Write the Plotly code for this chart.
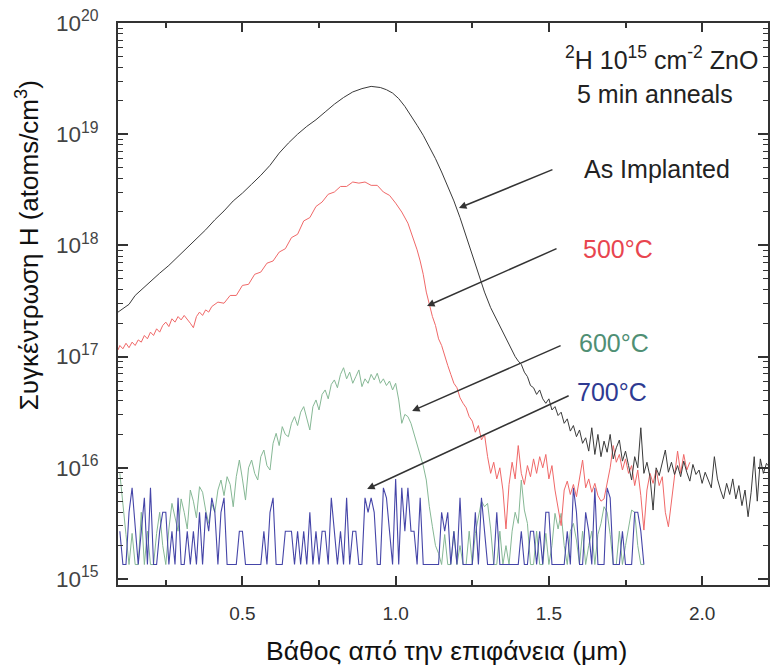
import plotly.graph_objects as go

FONT = "Liberation Sans, Arial, sans-serif"

# ---------------- data (depth in um, concentration given as log10(atoms/cm^3)) ----------------
asimp_depth = [0.094, 0.11, 0.13, 0.15, 0.17,
               0.20, 0.23, 0.26, 0.29, 0.32, 0.35, 0.38, 0.41, 0.44, 0.47, 0.50, 0.53, 0.56,
               0.59, 0.62, 0.65, 0.68, 0.71, 0.74, 0.77, 0.80, 0.83, 0.86, 0.89, 0.92, 0.95,
               0.97, 0.99, 1.01, 1.03, 1.05, 1.07, 1.09, 1.11, 1.13, 1.15, 1.17, 1.19, 1.21,
               1.23, 1.25, 1.27, 1.29, 1.31, 1.33, 1.35, 1.37,
               1.38, 1.39, 1.40, 1.41, 1.42, 1.43, 1.44, 1.45, 1.46, 1.47,
               1.48, 1.49, 1.50, 1.51, 1.52, 1.53, 1.54, 1.55, 1.56, 1.57,
               1.58, 1.59, 1.60, 1.61, 1.62, 1.63, 1.64, 1.65, 1.66, 1.67,
               1.68, 1.69, 1.70, 1.71, 1.72, 1.73, 1.74, 1.75, 1.76, 1.77,
               1.78, 1.79, 1.80, 1.81, 1.82, 1.83, 1.84, 1.85, 1.86, 1.87,
               1.88, 1.89, 1.90, 1.91, 1.92, 1.93, 1.94, 1.95, 1.96, 1.97,
               1.98, 1.99, 2.00, 2.01, 2.02, 2.03, 2.04, 2.05, 2.06, 2.07,
               2.08, 2.09, 2.10, 2.11, 2.12, 2.13, 2.14, 2.15, 2.16, 2.17,
               2.18, 2.19, 2.20, 2.21, 2.215]
asimp_log = [17.40, 17.43, 17.47, 17.55, 17.60,
             17.68, 17.75, 17.82, 17.90, 17.98, 18.06, 18.14, 18.23, 18.31, 18.40, 18.47, 18.55, 18.63,
             18.72, 18.83, 18.92, 19.00, 19.07, 19.13, 19.20, 19.27, 19.33, 19.38, 19.41, 19.43, 19.42,
             19.40, 19.37, 19.32, 19.25, 19.17, 19.08, 18.99, 18.89, 18.78, 18.66, 18.53, 18.40, 18.25,
             18.08, 17.90, 17.73, 17.58, 17.44, 17.33, 17.22, 17.10,
             17.05, 17.00, 16.96, 16.93, 16.86, 16.82, 16.74, 16.72, 16.66, 16.70,
             16.62, 16.58, 16.62, 16.52, 16.55, 16.47, 16.50, 16.40, 16.44, 16.33,
             16.38, 16.28, 16.34, 16.22, 16.27, 16.15, 16.36, 16.12, 16.30, 16.10,
             16.24, 16.14, 16.30, 16.08, 16.18, 16.25, 16.06, 16.15, 16.02, 15.89,
             16.10, 16.00, 16.36, 15.95, 16.05, 15.92, 15.62, 16.00, 15.93, 16.04,
             16.16, 15.96, 16.05, 15.94, 16.02, 15.92, 16.06, 15.96, 15.88, 16.03,
             15.94, 15.98, 15.86, 15.96, 15.88, 15.82, 16.10, 15.90, 15.80, 15.72,
             15.86, 15.76, 15.90, 15.72, 15.84, 15.66, 15.80, 15.56, 15.78, 16.10,
             15.70, 16.08, 15.95, 16.04, 16.02]

c500_depth = [0.094,
              0.10, 0.11, 0.12, 0.13, 0.14, 0.15, 0.16, 0.17, 0.18, 0.19,
              0.20, 0.21, 0.22, 0.23, 0.24, 0.25, 0.26, 0.27, 0.28, 0.29,
              0.30, 0.31, 0.32, 0.33, 0.34, 0.35, 0.36, 0.37, 0.38, 0.39, 0.40,
              0.42, 0.44, 0.46, 0.48, 0.50, 0.52, 0.54, 0.56, 0.58, 0.60, 0.62, 0.64, 0.66,
              0.68, 0.70, 0.72, 0.74, 0.76, 0.78, 0.80, 0.82, 0.84, 0.86, 0.88, 0.90, 0.92,
              0.94, 0.96, 0.98,
              1.00, 1.02, 1.04, 1.06,
              1.07, 1.08, 1.09, 1.10, 1.11, 1.12, 1.13, 1.14, 1.15, 1.16,
              1.17, 1.18, 1.19, 1.20, 1.21, 1.22, 1.23, 1.24, 1.25, 1.26,
              1.27, 1.28, 1.29, 1.30, 1.31, 1.32, 1.33, 1.34, 1.35, 1.36,
              1.37, 1.38, 1.39, 1.40, 1.41, 1.42, 1.43, 1.44, 1.45, 1.46,
              1.47, 1.48, 1.49, 1.50, 1.51, 1.52, 1.53, 1.54, 1.55, 1.56,
              1.57, 1.58, 1.59, 1.60, 1.61, 1.62, 1.63, 1.64, 1.65, 1.66,
              1.67, 1.68, 1.69, 1.70, 1.71, 1.72, 1.73, 1.74, 1.75, 1.76,
              1.77, 1.78, 1.79, 1.80, 1.81, 1.82, 1.83, 1.84, 1.85, 1.86,
              1.87, 1.88, 1.89, 1.90, 1.91, 1.92, 1.93, 1.94, 1.95, 1.96]
c500_log = [17.06,
            17.10, 17.07, 17.12, 17.08, 17.13, 17.10, 17.15, 17.13, 17.19, 17.16,
            17.22, 17.19, 17.25, 17.22, 17.28, 17.31, 17.27, 17.34, 17.31, 17.36,
            17.33, 17.37, 17.34, 17.30, 17.26, 17.36, 17.40, 17.37, 17.42, 17.40, 17.45,
            17.49, 17.48, 17.55, 17.55, 17.64, 17.65, 17.74, 17.76, 17.84, 17.86, 17.94, 17.97, 18.07,
            18.10, 18.22, 18.25, 18.35, 18.39, 18.46, 18.48, 18.53, 18.53, 18.57, 18.56, 18.57, 18.54,
            18.54, 18.48, 18.45,
            18.38, 18.30, 18.20, 18.05,
            17.96, 17.86, 17.74, 17.58, 17.47, 17.36, 17.28, 17.16, 17.10, 17.02,
            16.92, 16.84, 16.76, 16.72, 16.63, 16.58, 16.54, 16.46, 16.42, 16.32,
            16.38, 16.25, 16.30, 16.10, 15.95, 16.05, 15.90, 16.00, 15.80, 15.45,
            15.85, 16.05, 15.90, 16.20, 15.95, 15.85, 16.02, 15.92, 16.08, 15.95,
            16.10, 16.00, 16.12, 15.90, 16.02, 15.80, 15.62, 15.48, 15.80, 15.88,
            15.76, 15.85, 15.74, 15.90, 16.07, 15.82, 15.90, 15.78, 15.86, 15.75,
            15.70, 15.72, 15.85, 16.00, 16.20, 16.05, 16.12, 15.98, 16.08, 15.95,
            16.02, 15.84, 15.98, 15.75, 15.44, 15.80, 15.95, 15.86, 15.98, 15.84,
            15.92, 15.60, 15.47, 15.70, 15.90, 16.15, 15.95, 16.12, 15.98, 16.05]

anneal_depth = [0.10, 0.11, 0.12, 0.13, 0.14, 0.15, 0.16, 0.17, 0.18, 0.19,
                0.20, 0.21, 0.22, 0.23, 0.24, 0.25, 0.26, 0.27, 0.28, 0.29,
                0.30, 0.31, 0.32, 0.33, 0.34, 0.35, 0.36, 0.37, 0.38, 0.39,
                0.40, 0.41, 0.42, 0.43, 0.44, 0.45, 0.46, 0.47, 0.48, 0.49,
                0.50, 0.51, 0.52, 0.53, 0.54, 0.55, 0.56, 0.57, 0.58, 0.59,
                0.60, 0.61, 0.62, 0.63, 0.64, 0.65, 0.66, 0.67, 0.68, 0.69,
                0.70, 0.71, 0.72, 0.73, 0.74, 0.75, 0.76, 0.77, 0.78, 0.79,
                0.80, 0.81, 0.82, 0.83, 0.84, 0.85, 0.86, 0.87, 0.88, 0.89,
                0.90, 0.91, 0.92, 0.93, 0.94, 0.95, 0.96, 0.97, 0.98, 0.99,
                1.00, 1.01, 1.02, 1.03, 1.04, 1.05, 1.06, 1.07, 1.08, 1.09,
                1.10, 1.11, 1.12, 1.13, 1.14, 1.15, 1.16, 1.17, 1.18, 1.19,
                1.20, 1.21, 1.22, 1.23, 1.24, 1.25, 1.26, 1.27, 1.28, 1.29,
                1.30, 1.31, 1.32, 1.33, 1.34, 1.35, 1.36, 1.37, 1.38, 1.39,
                1.40, 1.41, 1.42, 1.43, 1.44, 1.45, 1.46, 1.47, 1.48, 1.49,
                1.50, 1.51, 1.52, 1.53, 1.54, 1.55, 1.56, 1.57, 1.58, 1.59,
                1.60, 1.61, 1.62, 1.63, 1.64, 1.65, 1.66, 1.67, 1.68, 1.69,
                1.70, 1.71, 1.72, 1.73, 1.74, 1.75, 1.76, 1.77, 1.78, 1.79,
                1.80, 1.81]

c600_log = [15.95, 15.70, 15.40, 15.13, 15.41, 15.13, 15.13, 15.60, 15.13, 15.43,
            15.13, 15.13, 15.41, 15.60, 15.30, 15.13, 15.45, 15.68, 15.55, 15.43,
            15.72, 15.60, 15.45, 15.80, 15.70, 15.55, 15.83, 15.78, 15.62, 15.50,
            15.68, 15.60, 15.80, 15.89, 15.75, 15.92, 15.85, 15.65, 15.92, 16.07,
            15.90, 15.71, 16.00, 16.07, 15.95, 15.89, 16.10, 16.16, 16.02, 15.98,
            16.22, 16.31, 16.20, 16.37, 16.30, 16.28, 16.40, 16.46, 16.38, 16.50,
            16.55, 16.45, 16.34, 16.55, 16.61, 16.52, 16.66, 16.70, 16.62, 16.75,
            16.79, 16.72, 16.84, 16.90, 16.80, 16.86, 16.76, 16.82, 16.88, 16.73,
            16.80, 16.76, 16.84, 16.79, 16.85, 16.76, 16.80, 16.74, 16.78, 16.70,
            16.76, 16.61, 16.40, 16.48, 16.46, 16.40, 16.30, 16.20, 16.10, 16.02,
            15.89, 15.65, 15.47, 15.30, 15.23, 15.13, 15.40, 15.13, 15.13, 15.43,
            15.13, 15.30, 15.13, 15.13, 15.43, 15.13, 15.41, 15.55, 15.70, 15.65,
            15.68, 15.45, 15.13, 15.13, 15.43, 15.13, 15.30, 15.13, 15.43, 15.60,
            15.50, 15.89, 15.62, 15.50, 15.13, 15.13, 15.43, 15.13, 15.13, 15.41,
            15.13, 15.30, 15.59, 15.45, 15.59, 15.30, 15.13, 15.43, 15.50, 15.35,
            15.13, 15.43, 15.13, 15.30, 15.43, 15.13, 15.40, 15.50, 15.65, 15.60,
            15.40, 15.13, 15.13, 15.43, 15.13, 15.30, 15.45, 15.62, 15.60, 15.30,
            15.13, 15.13]

c700_log = [15.43, 15.13, 15.13, 15.60, 15.82, 15.43, 15.13, 15.43, 15.73, 15.13,
            15.82, 15.13, 15.13, 15.43, 15.60, 15.60, 15.13, 15.43, 15.13, 15.73,
            15.13, 15.13, 15.43, 15.13, 15.43, 15.13, 15.60, 15.13, 15.60, 15.43,
            15.73, 15.60, 15.13, 15.60, 15.73, 15.13, 15.13, 15.13, 15.13, 15.43,
            15.43, 15.13, 15.13, 15.13, 15.13, 15.13, 15.13, 15.43, 15.13, 15.60,
            15.73, 15.13, 15.13, 15.13, 15.43, 15.43, 15.43, 15.13, 15.43, 15.13,
            15.43, 15.13, 15.60, 15.13, 15.43, 15.13, 15.43, 15.43, 15.13, 15.73,
            15.43, 15.13, 15.43, 15.13, 15.73, 15.13, 15.43, 15.43, 15.13, 15.13,
            15.73, 15.60, 15.73, 15.60, 15.13, 15.13, 15.82, 15.73, 15.43, 15.13,
            15.90, 15.13, 15.82, 15.43, 15.82, 15.43, 15.43, 15.13, 15.73, 15.13,
            15.13, 15.13, 15.13, 15.13, 15.13, 15.60, 15.43, 15.60, 15.13, 15.43,
            15.13, 15.73, 15.13, 15.13, 15.13, 15.13, 15.60, 15.13, 15.73, 15.43,
            15.13, 15.13, 15.13, 15.60, 15.13, 15.13, 15.13, 15.13, 15.13, 15.13,
            15.13, 15.43, 15.13, 15.13, 15.43, 15.43, 15.13, 15.43, 15.13, 15.60,
            15.60, 15.13, 15.13, 15.13, 15.13, 15.13, 15.43, 15.13, 15.82, 15.60,
            15.13, 15.13, 15.60, 15.43, 15.13, 15.82, 15.13, 15.13, 15.13, 15.82,
            15.73, 15.13, 15.13, 15.13, 15.43, 15.13, 15.13, 15.13, 15.60, 15.60,
            15.43, 15.13]

x_ticks = [0.5, 1.0, 1.5, 2.0]
x_ticklabels = ["0.5", "1.0", "1.5", "2.0"]


def conc(logs):
    return [10 ** v for v in logs]


fig = go.Figure()
fig.add_trace(go.Scatter(x=anneal_depth, y=conc(c600_log), mode="lines",
                         line=dict(color="#86b895", width=1), name="600°C"))
fig.add_trace(go.Scatter(x=anneal_depth, y=conc(c700_log), mode="lines",
                         line=dict(color="#4545a8", width=1.1), name="700°C"))
fig.add_trace(go.Scatter(x=c500_depth, y=conc(c500_log), mode="lines",
                         line=dict(color="#f06868", width=1), name="500°C"))
fig.add_trace(go.Scatter(x=asimp_depth, y=conc(asimp_log), mode="lines",
                         line=dict(color="#3a3a3a", width=1), name="As Implanted"))

AX = "#333333"
fig.update_layout(
    width=774, height=666,
    margin=dict(l=118, r=4, t=23, b=81),
    paper_bgcolor="white", plot_bgcolor="white",
    showlegend=False,
    font=dict(family=FONT, color="#333333"),
    xaxis=dict(range=[0.094, 2.215], tickvals=x_ticks, ticktext=x_ticklabels,
               ticks="inside", ticklen=9, tickwidth=1.5, tickcolor=AX,
               showline=True, linecolor=AX, linewidth=1.5, mirror="ticks",
               showgrid=False, zeroline=False,
               minor=dict(ticks="inside", ticklen=5, tickwidth=1.5, tickcolor=AX,
                          tick0=0, dtick=0.25, showgrid=False),
               tickfont=dict(size=19, color="#333333", family=FONT),
               ticklabelstandoff=10),
    yaxis=dict(type="log", range=[14.946, 20], dtick=1, exponentformat="power",
               ticks="inside", ticklen=10, tickwidth=1.5, tickcolor=AX,
               showline=True, linecolor=AX, linewidth=1.5, mirror="ticks",
               showgrid=False, zeroline=False,
               minor=dict(ticks="inside", ticklen=5, tickwidth=1.2, tickcolor=AX,
                          dtick="D1", showgrid=False),
               tickfont=dict(size=18, color="#444444", family=FONT),
               ticklabelstandoff=14),
)

ann = []
# axis titles
ann.append(dict(text="Βάθος από την επιφάνεια (μm)", xref="paper", yref="paper",
                x=0.505, y=-0.117, xanchor="center", yanchor="middle", showarrow=False,
                font=dict(size=26.5, color="#111111", family=FONT)))
ann.append(dict(text="Συγκέντρωση H (atoms/cm<sup>3</sup>)", xref="paper", yref="paper",
                x=-0.138, y=0.605, xanchor="center", yanchor="middle", showarrow=False,
                textangle=-90, font=dict(size=26, color="#111111", family=FONT)))
# labels
ann.append(dict(text="<sup>2</sup>H 10<sup>15</sup> cm<sup>-2</sup> ZnO", xref="paper", yref="paper",
                x=0.836, y=0.937, xanchor="center", yanchor="middle", showarrow=False,
                font=dict(size=25, color="#222222", family=FONT)))
ann.append(dict(text="5 min anneals", xref="paper", yref="paper",
                x=0.826, y=0.874, xanchor="center", yanchor="middle", showarrow=False,
                font=dict(size=25, color="#222222", family=FONT)))
ann.append(dict(text="As Implanted", xref="paper", yref="paper",
                x=0.829, y=0.740, xanchor="center", yanchor="middle", showarrow=False,
                font=dict(size=25, color="#222222", family=FONT)))
ann.append(dict(text="500°C", xref="paper", yref="paper",
                x=0.7117, y=0.598, xanchor="left", yanchor="middle", showarrow=False,
                font=dict(size=25, color="#e8454f", family=FONT)))
ann.append(dict(text="600°C", xref="paper", yref="paper",
                x=0.7055, y=0.430, xanchor="left", yanchor="middle", showarrow=False,
                font=dict(size=25, color="#4f8f74", family=FONT)))
ann.append(dict(text="700°C", xref="paper", yref="paper",
                x=0.7025, y=0.343, xanchor="left", yanchor="middle", showarrow=False,
                font=dict(size=25, color="#2e3a92", family=FONT)))
# arrows (head in data coords, tail offset in px)
for hx, hy, ax_, ay_ in [(1.2065, 18.336, 95, -39),
                          (1.1024, 17.455, 131, -58),
                          (1.0537, 16.511, 150, -66),
                          (0.907, 15.809, 203, -94)]:
    ann.append(dict(text="", x=hx, y=hy, xref="x", yref="y", ax=ax_, ay=ay_,
                    showarrow=True, arrowhead=2, arrowsize=1, arrowwidth=1.5,
                    arrowcolor="#333333", standoff=0))
fig.update_layout(annotations=ann)

fig.write_html("out.html")
